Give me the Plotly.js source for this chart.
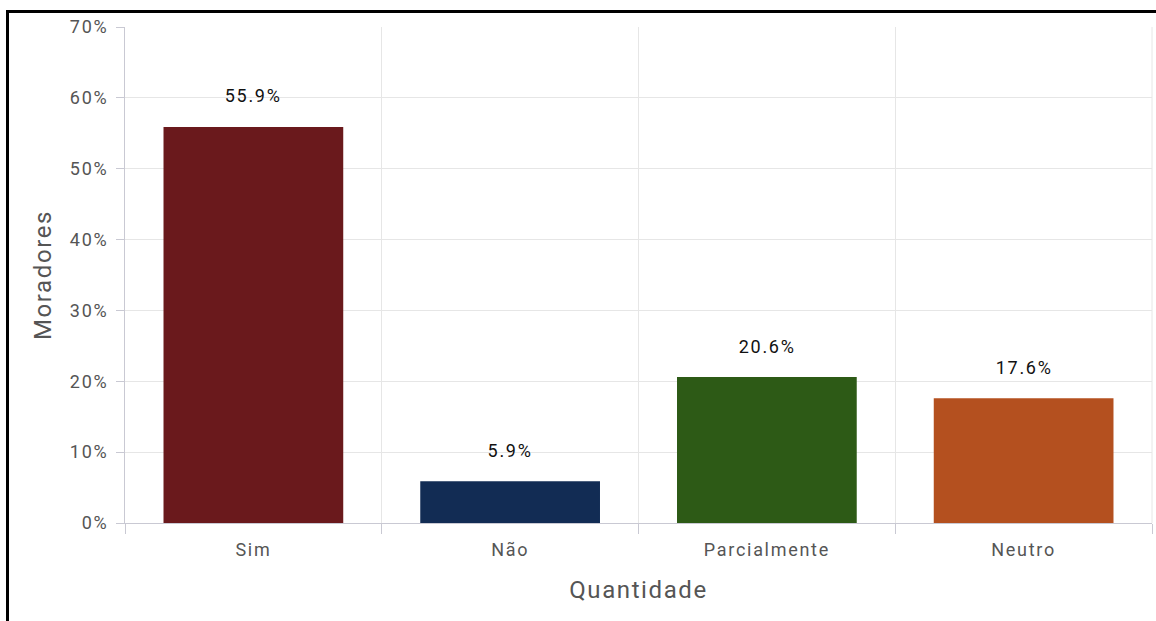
<!DOCTYPE html>
<html><head><meta charset="utf-8">
<script src="https://cdn.plot.ly/plotly-3.0.1.min.js"></script>
<style>
html,body{margin:0;padding:0;background:#fff;}
#frame{position:absolute;left:6px;top:10px;width:1200px;height:700px;border-top:3px solid #000;border-left:3px solid #000;pointer-events:none;z-index:10;}
#chart{position:absolute;left:0;top:0;width:1156px;height:621px;}
#chart svg text{letter-spacing:1.7px;}
#chart svg .g-xtitle text, #chart svg .g-ytitle text{letter-spacing:1.6px;}
</style></head>
<body>
<div id="chart"></div>
<div id="frame"></div>
<script>
const categories = ['Sim', 'Não', 'Parcialmente', 'Neutro'];
const values = [55.9, 5.9, 20.6, 17.6];
const labels = ['55.9%', '5.9%', '20.6%', '17.6%'];
const colors = ['#6a191c', '#122c54', '#2d5a16', '#b4501f'];

const trace = {
  type: 'bar',
  x: categories,
  y: values,
  marker: {color: colors},
  width: 0.7,
  hoverinfo: 'skip'
};

const annotations = categories.map((c, i) => ({
  x: c, y: values[i], xref: 'x', yref: 'y',
  text: labels[i], showarrow: false, yshift: 31,
  font: {family: 'Roboto, sans-serif', size: 18, color: '#111'}
}));

const layout = {
  width: 1156, height: 621,
  margin: {l: 125, r: 4, t: 27, b: 98},
  paper_bgcolor: '#fff', plot_bgcolor: '#fff',
  showlegend: false,
  font: {family: 'Roboto, sans-serif', color: '#555'},
  xaxis: {
    type: 'category',
    tickson: 'boundaries',
    ticks: 'outside', ticklen: 10, tickcolor: '#c9c9d3',
    ticklabelstandoff: 10,
    showgrid: true, gridcolor: '#e6e6e6',
    showline: true, linecolor: '#c9c9d3', linewidth: 1,
    tickfont: {size: 18, color: '#555'},
    title: {text: 'Quantidade', font: {size: 24, color: '#555'}, standoff: 22},
    fixedrange: true
  },
  yaxis: {
    range: [0, 70], dtick: 10, ticksuffix: '%',
    ticks: 'outside', ticklen: 8, tickcolor: '#c9c9d3',
    ticklabelstandoff: 4,
    showgrid: true, gridcolor: '#e6e6e6',
    showline: true, linecolor: '#c9c9d3', linewidth: 1,
    zeroline: false,
    tickfont: {size: 18, color: '#555'},
    title: {text: 'Moradores', font: {size: 24, color: '#555'}, standoff: 16},
    fixedrange: true
  },
  annotations: annotations,
  shapes: [{type: 'line', xref: 'paper', yref: 'paper', x0: 1, x1: 1, y0: 0, y1: 1, line: {color: '#e6e6e6', width: 1}}]
};

Plotly.newPlot('chart', [trace], layout, {displayModeBar: false, staticPlot: true});
</script>
</body></html>
